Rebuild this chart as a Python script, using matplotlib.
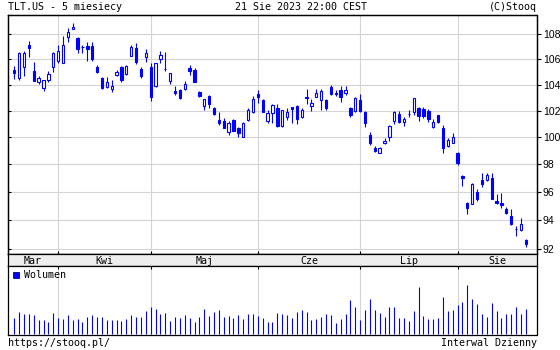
import matplotlib
matplotlib.use('Agg')
import matplotlib.pyplot as plt
from matplotlib.ticker import FixedLocator, NullLocator, FixedFormatter, NullFormatter
from matplotlib.patches import Patch
import numpy as np
import pandas as pd

# ---------------- data ----------------
holidays = ['2023-04-07', '2023-05-29', '2023-06-19', '2023-07-04']
dates = pd.bdate_range('2023-03-21', '2023-08-21')
dates = dates[~dates.isin(pd.to_datetime(holidays))]
month_labels = ['Mar', 'Kwi', 'Maj', 'Cze', 'Lip', 'Sie']

opens = [105.13, 104.55, 105.42, 107.15, 105.07, 104.24, 103.73, 104.37, 105.42, 105.86,
         105.73, 107.76, 108.40, 107.68, 107.00, 107.07, 107.07, 105.42, 104.51, 103.85,
         103.65, 104.76, 105.42, 104.84, 106.26, 106.88, 105.27, 106.20, 105.37, 103.90,
         106.00, 105.27, 104.31, 103.55, 103.60, 103.65, 105.32, 105.17, 103.47, 102.38,
         103.13, 102.23, 101.30, 101.20, 100.38, 101.30, 100.73, 100.00, 101.30, 101.93,
         103.26, 102.85, 101.25, 101.80, 102.20, 100.85, 101.55, 102.28, 102.37, 101.55,
         103.08, 102.38, 103.08, 102.80, 102.80, 103.85, 103.40, 103.58, 103.36, 102.20,
         101.98, 102.80, 101.93, 100.18, 99.23, 98.81, 99.56, 100.05, 101.25, 101.75,
         101.18, 101.73, 101.93, 102.20, 102.12, 102.00, 100.80, 101.68, 100.68, 99.38,
         99.60, 98.86, 97.15, 95.19, 95.12, 96.02, 96.86, 96.86, 96.98, 95.36,
         95.20, 94.79, 94.30, 93.36, 93.30, 92.62]
highs = [105.47, 106.56, 106.65, 107.46, 105.78, 104.69, 104.37, 105.07, 106.60, 107.15,
         107.86, 108.48, 108.89, 107.76, 107.15, 107.40, 107.40, 105.55, 104.64, 104.59,
         104.37, 105.20, 105.47, 105.55, 107.15, 107.30, 105.37, 106.80, 105.73, 105.73,
         106.65, 106.60, 104.95, 103.90, 103.68, 104.32, 105.55, 105.32, 103.55, 102.90,
         103.20, 102.30, 101.89, 101.43, 101.25, 101.35, 100.80, 101.17, 102.20, 103.13,
         103.58, 102.90, 102.10, 102.53, 102.53, 102.10, 102.20, 102.28, 102.45, 102.20,
         103.68, 102.90, 103.65, 103.65, 102.93, 103.98, 103.58, 103.93, 103.90, 102.30,
         103.04, 103.30, 101.98, 100.43, 99.36, 99.26, 99.98, 100.93, 102.00, 102.00,
         101.55, 102.06, 102.96, 102.33, 102.28, 102.12, 101.36, 101.68, 100.93, 99.98,
         100.30, 98.93, 97.22, 95.31, 96.66, 96.21, 97.35, 97.35, 97.35, 95.86,
         95.90, 94.95, 94.77, 93.60, 94.13, 92.69]
lows = [104.45, 104.37, 104.70, 106.20, 104.30, 104.06, 103.55, 104.19, 105.02, 105.70,
        105.73, 107.41, 108.40, 106.53, 106.53, 105.90, 105.90, 104.95, 103.65, 103.73,
        103.47, 104.69, 104.24, 104.76, 106.26, 105.66, 104.51, 105.81, 102.77, 103.80,
        105.70, 105.10, 104.04, 103.24, 102.90, 103.60, 104.76, 104.24, 103.08, 102.05,
        102.23, 101.68, 100.93, 100.68, 100.18, 100.50, 100.00, 100.00, 101.22, 101.86,
        102.60, 101.93, 101.10, 101.10, 100.75, 100.80, 101.30, 101.10, 101.00, 101.48,
        102.53, 102.00, 103.04, 102.06, 102.10, 103.20, 103.13, 102.68, 103.20, 101.50,
        101.93, 101.93, 100.75, 99.44, 98.94, 98.81, 99.51, 99.75, 101.00, 101.10,
        100.88, 101.55, 101.68, 101.25, 101.43, 101.18, 100.68, 101.05, 98.87, 99.26,
        99.56, 97.96, 96.40, 94.43, 95.12, 95.38, 96.38, 96.81, 95.48, 95.12,
        94.84, 94.44, 93.66, 92.90, 93.27, 92.12]
closes = [104.95, 106.48, 106.48, 106.88, 104.30, 104.51, 104.37, 104.84, 106.48, 106.65,
          107.15, 108.20, 108.56, 106.80, 107.02, 106.85, 106.00, 105.02, 103.73, 104.24,
          103.92, 105.02, 104.37, 105.47, 107.00, 105.81, 104.69, 106.48, 103.08, 105.70,
          106.33, 105.22, 104.89, 103.39, 103.00, 104.06, 105.12, 104.24, 103.16, 102.87,
          102.51, 101.75, 101.05, 100.73, 101.10, 100.50, 100.30, 101.10, 102.10, 102.90,
          103.06, 101.93, 101.86, 102.45, 100.85, 102.06, 101.93, 102.14, 101.36, 102.06,
          102.96, 102.62, 103.39, 103.55, 102.20, 103.26, 103.26, 103.10, 103.58, 101.65,
          102.96, 101.98, 101.10, 99.56, 98.99, 99.19, 99.75, 100.85, 101.93, 101.18,
          101.38, 101.77, 102.96, 101.62, 101.60, 101.36, 101.12, 101.18, 99.19, 99.81,
          100.00, 98.12, 96.99, 94.84, 96.55, 95.48, 96.57, 97.22, 95.48, 95.19,
          95.08, 94.53, 93.73, 93.38, 93.73, 92.32]
volumes = [48, 66, 62, 60, 57, 44, 42, 36, 63, 48,
           45, 57, 42, 47, 37, 51, 57, 51, 51, 42,
           42, 42, 39, 45, 57, 51, 51, 69, 81, 75,
           60, 63, 39, 51, 48, 57, 48, 36, 51, 75,
           54, 66, 72, 51, 54, 48, 57, 45, 60, 60,
           54, 48, 36, 36, 63, 60, 57, 48, 66, 72,
           66, 42, 45, 51, 60, 57, 33, 45, 60, 102,
           81, 42, 72, 105, 72, 63, 51, 81, 81, 48,
           48, 39, 69, 141, 54, 45, 45, 48, 111, 69,
           72, 87, 96, 147, 105, 90, 60, 51, 93, 69,
           48, 60, 60, 81, 60, 75]
price_ticks = [92, 94, 96, 98, 100, 102, 104, 106, 108]

# ---------------- style ----------------
BLUE = '#0000ff'
GRID = '#d4d4d4'
BAND = '#eeeeee'
MONO = 'DejaVu Sans Mono'
SANS = 'Liberation Sans'
FS = 7.2

W, H = 560, 350
fig = plt.figure(figsize=(W / 100, H / 100), dpi=100)
fig.patch.set_facecolor('white')


def rect(l, t, r, b):
    return [l / W, 1 - b / H, (r - l) / W, (b - t) / H]


L, R = 8, 536.5
ax = fig.add_axes(rect(L, 15, R, 254))
axl = ax.twinx()          # used only for the small inward ticks on the left
band = fig.add_axes(rect(L, 254, R, 266))
vax = fig.add_axes(rect(L, 266, R, 335))

o = np.array(opens); h = np.array(highs); lo = np.array(lows); c = np.array(closes)
n = len(o)
x = np.arange(n)
xlim = (-1.29, 107.2)

month_starts = [i for i in range(1, n) if dates[i].month != dates[i - 1].month]
edges = [xlim[0]] + month_starts + [xlim[1]]
centers = [(edges[k] + edges[k + 1]) / 2 for k in range(len(edges) - 1)]

# ---- price panel ----
ax.set_yscale('log')
ax.set_xlim(*xlim)
ax.set_ylim(91.66, 109.57)
for yv in price_ticks:
    ax.axhline(yv, color=GRID, lw=0.8, zorder=0)
for xs in month_starts:
    ax.axvline(xs, color=GRID, lw=0.8, zorder=0)

up = c >= o
ax.vlines(x, lo, h, color=BLUE, lw=0.8, zorder=2)
ax.bar(x, np.abs(c - o), bottom=np.minimum(o, c), width=0.48,
       color=np.where(up, 'white', BLUE), edgecolor=BLUE, linewidth=0.8, zorder=3)

ax.yaxis.set_major_locator(FixedLocator(price_ticks))
ax.yaxis.set_major_formatter(FixedFormatter([str(t) for t in price_ticks]))
ax.yaxis.set_minor_locator(NullLocator())
ax.yaxis.set_minor_formatter(NullFormatter())
ax.yaxis.tick_right()
ax.yaxis.set_label_position('right')
ax.tick_params(axis='y', which='major', direction='out', length=3, width=0.8, pad=1.5,
               labelsize=7.5, colors='black', left=False, labelleft=False,
               right=True, labelright=True)
for lab in ax.get_yticklabels():
    lab.set_family(SANS)
ax.xaxis.set_major_locator(FixedLocator(month_starts))
ax.tick_params(axis='x', direction='in', length=2.5, width=0.8, labelbottom=False)

axl.set_yscale('log')
axl.set_ylim(ax.get_ylim())
axl.yaxis.set_major_locator(FixedLocator(price_ticks))
axl.yaxis.set_minor_locator(NullLocator())
axl.yaxis.set_major_formatter(NullFormatter())
axl.yaxis.set_minor_formatter(NullFormatter())
axl.tick_params(axis='y', which='both', direction='in', length=2.5, width=0.8,
                left=True, labelleft=False, right=False, labelright=False)
for a in (ax, axl):
    for s in a.spines.values():
        s.set_linewidth(0.9)
        s.set_color('black')

# ---- month band ----
band.set_facecolor(BAND)
band.set_xlim(*xlim)
band.set_ylim(0, 1)
band.set_xticks([])
band.set_yticks([])
for s in band.spines.values():
    s.set_linewidth(0.9)
for cx, lab in zip(centers, month_labels):
    band.text(cx, 0.45, lab, ha='center', va='center', family=MONO, fontsize=FS)

# ---- volume panel ----
vax.set_xlim(*xlim)
vax.set_ylim(-2, 205)
for xs in month_starts:
    vax.axvline(xs, color=GRID, lw=0.8, zorder=0)
vax.vlines(x, 0, volumes, color=BLUE, lw=0.8, zorder=2)
vax.set_yticks([])
vax.xaxis.set_major_locator(FixedLocator(month_starts))
vax.xaxis.tick_top()
vax.tick_params(axis='x', direction='in', length=2.5, width=0.8, labeltop=False)
for s in vax.spines.values():
    s.set_linewidth(0.9)
vax.legend(handles=[Patch(facecolor=BLUE, edgecolor='#000080', linewidth=0.6)],
           labels=['Wolumen'], loc='upper left', frameon=False,
           handlelength=0.65, handleheight=0.65, handletextpad=0.45,
           borderaxespad=0.25, borderpad=0.2, prop={'family': MONO, 'size': FS})

# ---- texts ----
fig.text(L / W, 1 - 7 / H, 'TLT.US - 5 miesiecy', ha='left', va='center',
         family=MONO, fontsize=FS)
fig.text(301 / W, 1 - 7 / H, '21 Sie 2023 22:00 CEST', ha='center', va='center',
         family=MONO, fontsize=FS)
fig.text(537 / W, 1 - 7 / H, '(C)Stooq', ha='right', va='center',
         family=MONO, fontsize=FS)
fig.text(L / W, 1 - 343 / H, 'https://stooq.pl/', ha='left', va='center',
         family=MONO, fontsize=FS)
fig.text(537 / W, 1 - 343 / H, 'Interwal Dzienny', ha='right', va='center',
         family=MONO, fontsize=FS)

fig.savefig('out.png', dpi=100, facecolor='white')
